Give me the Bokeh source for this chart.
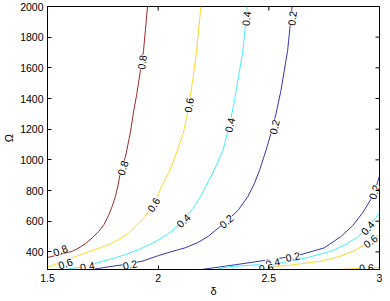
from bokeh.plotting import figure
from bokeh.models import Range1d, FixedTicker, ColumnDataSource
from bokeh.core.properties import value
from bokeh.embed import file_html
from bokeh.resources import INLINE

# ---- data ----
# upper-left family of contour lines
c08_x = [1.500, 1.612, 1.642, 1.672, 1.702, 1.732, 1.755, 1.777, 1.792, 1.807, 1.819, 1.829,
         1.852, 1.874, 1.888, 1.904, 1.920, 1.934, 1.952]
c08_y = [363, 404, 426, 454, 491, 534, 577, 642, 696, 761, 837, 913,
         1019, 1175, 1305, 1434, 1583, 1714, 2000]

c06_x = [1.500, 1.612, 1.672, 1.717, 1.777, 1.822, 1.867, 1.912, 1.941, 1.979, 2.009, 2.031,
         2.054, 2.076, 2.114, 2.139, 2.158, 2.174, 2.193]
c06_y = [300, 361, 394, 415, 447, 480, 523, 588, 631, 707, 805, 870,
         934, 1019, 1175, 1357, 1539, 1714, 2000]

c04_x = [1.576, 1.680, 1.747, 1.792, 1.852, 1.912, 1.971, 2.016, 2.061, 2.114, 2.156, 2.192,
         2.223, 2.256, 2.293, 2.323, 2.345, 2.364, 2.383, 2.403]
c04_y = [285, 306, 339, 355, 382, 415, 454, 491, 534, 604, 682, 763,
         849, 941, 1064, 1227, 1389, 1551, 1714, 2000]

c02_x = [1.702, 1.777, 1.852, 1.927, 2.002, 2.054, 2.121, 2.181, 2.226, 2.308, 2.361, 2.406,
         2.435, 2.458, 2.488, 2.510, 2.533, 2.555, 2.585, 2.605]
c02_y = [285, 303, 318, 339, 376, 399, 426, 462, 501, 599, 671, 762,
         847, 932, 1065, 1175, 1304, 1454, 1714, 2000]

# lower-right family of contour lines
d02_x = [2.196, 2.301, 2.510, 2.630, 2.750, 2.825, 2.879, 2.924, 2.960, 2.982, 3.000]
d02_y = [285, 306, 350, 376, 426, 499, 571, 655, 740, 810, 895]

d04_x = [2.263, 2.316, 2.400, 2.555, 2.675, 2.780, 2.847, 2.900, 2.945, 3.000]
d04_y = [285, 303, 311, 328, 363, 404, 447, 496, 556, 653]

d06_x = [2.456, 2.510, 2.585, 2.735, 2.825, 2.892, 2.959, 3.000]
d06_y = [285, 303, 311, 339, 373, 412, 469, 512]

e06_x = [2.800, 2.900, 3.000]
e06_y = [285, 291, 298]

# contour labels
lab_text = ["0.8", "0.8", "0.8",
            "0.6", "0.6", "0.6",
            "0.4", "0.4", "0.4", "0.4",
            "0.2", "0.2", "0.2", "0.2",
            "0.2", "0.2", "0.4", "0.4", "0.6", "0.6", "0.6"]
lab_x = [1.558, 1.840, 1.927,
         1.581, 1.979, 2.139,
         1.680, 2.114, 2.323, 2.398,
         1.873, 2.308, 2.525, 2.605,
         2.608, 2.976, 2.946, 2.518, 2.959, 2.488, 2.941]
lab_y = [410, 947, 1636,
         324, 707, 1357,
         306, 604, 1227, 1921,
         317, 599, 1214, 1923,
         369, 790, 556, 329, 469, 296, 296]
lab_angle = [22, 72, 82,
             18, 59, 80,
             10, 45, 77, 84,
             12, 42, 76, 83,
             12, 72, 48, 12, 37, 8, 2]

x_ticks = [1.5, 2, 2.5, 3]
y_ticks = [400, 600, 800, 1000, 1200, 1400, 1600, 1800, 2000]
x_min, x_max = 1.5, 3.0
y_min, y_max = 285, 2000

# ---- styles ----
col = {"0.8": "#9c2a2a", "0.6": "#ffd52e", "0.4": "#40eefa", "0.2": "#3636aa"}
FONT = "Liberation Sans"

p = figure(width=386, height=299, output_backend="svg", toolbar_location=None,
           x_range=Range1d(x_min, x_max), y_range=Range1d(y_min, y_max),
           min_border_left=30, min_border_right=7, min_border_top=6, min_border_bottom=20)
p.background_fill_color = "white"
p.border_fill_color = "white"
p.outline_line_color = "black"
p.xgrid.visible = False
p.ygrid.visible = False

lines = [(c08_x, c08_y, "0.8"), (c06_x, c06_y, "0.6"), (c04_x, c04_y, "0.4"), (c02_x, c02_y, "0.2"),
         (d02_x, d02_y, "0.2"), (d04_x, d04_y, "0.4"), (d06_x, d06_y, "0.6"), (e06_x, e06_y, "0.6")]
for xs, ys, lv in lines:
    p.line(xs, ys, line_color=col[lv], line_width=1)

src = ColumnDataSource(dict(x=lab_x, y=lab_y, t=lab_text, a=lab_angle))
p.text(x="x", y="y", text="t", angle="a", angle_units="deg", source=src,
       text_font=value(FONT), text_font_size="10.5px", text_color="black",
       text_align="center", text_baseline="middle",
       background_fill_color="white", padding=0)

# inward ticks on the top and right edges of the box
p.scatter(x=x_ticks, y=[y_max] * len(x_ticks), marker="dash", angle=90, angle_units="deg",
          size=8, line_color="black", line_width=1)
p.scatter(x=[x_max] * len(y_ticks), y=y_ticks, marker="dash",
          size=8, line_color="black", line_width=1)

for ax in (p.xaxis[0], p.yaxis[0]):
    ax.major_tick_in = 4
    ax.major_tick_out = 0
    ax.minor_tick_line_color = None
    ax.axis_line_color = "black"
    ax.major_tick_line_color = "black"
    ax.major_label_text_font = FONT
    ax.major_label_text_font_size = "10.5px"
    ax.major_label_text_color = "black"
    ax.axis_label_text_font = FONT
    ax.axis_label_text_font_size = "11px"
    ax.axis_label_text_font_style = "normal"
    ax.axis_label_text_color = "black"

p.xaxis[0].ticker = FixedTicker(ticks=x_ticks)
p.yaxis[0].ticker = FixedTicker(ticks=y_ticks)
p.xaxis[0].axis_label = "δ"
p.yaxis[0].axis_label = "Ω"
p.xaxis[0].major_label_standoff = 4
p.xaxis[0].axis_label_standoff = 0
p.yaxis[0].major_label_standoff = 4
p.yaxis[0].axis_label_standoff = 2

open("out.html", "w").write(file_html(p, INLINE))
